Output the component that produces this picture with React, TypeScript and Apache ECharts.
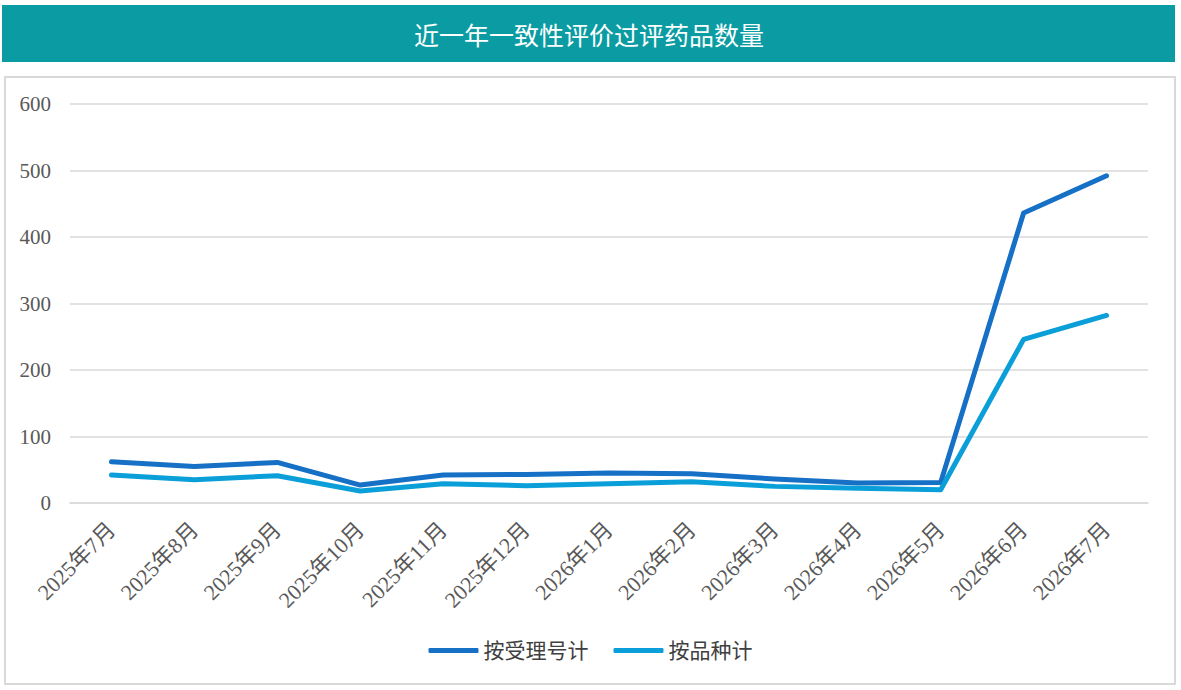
import React, { useEffect, useRef } from "react";
import * as echarts from "echarts";

const titleText = "近一年一致性评价过评药品数量";
const categories = [
  "2025年7月", "2025年8月", "2025年9月", "2025年10月", "2025年11月", "2025年12月",
  "2026年1月", "2026年2月", "2026年3月", "2026年4月", "2026年5月", "2026年6月", "2026年7月",
];
const seriesNames = ["按受理号计", "按品种计"];
const byAcceptance = [62, 55, 61, 27, 42, 43, 45, 44, 36, 30, 31, 436, 492];
const byVariety = [42, 35, 41, 18, 29, 26, 29, 32, 25, 22, 20, 246, 282];
const yMin = 0;
const yMax = 600;
const yInterval = 100;

const FONT = "'Liberation Serif', 'Noto Sans CJK SC', serif";

export default function App() {
  const ref = useRef<HTMLDivElement>(null);
  useEffect(() => {
    if (!ref.current) return;
    const chart = echarts.init(ref.current, null, { renderer: "svg" });
    chart.setOption({
      animation: false,
      backgroundColor: "#ffffff",
      graphic: [
        {
          type: "rect",
          shape: { x: 2, y: 5, width: 1173, height: 57 },
          style: { fill: "#0b9ca3" },
          z: 0,
        },
        {
          type: "text",
          x: 589,
          y: 34,
          style: {
            text: titleText,
            fill: "#ffffff",
            font: "25px 'Noto Sans CJK SC', sans-serif",
            textAlign: "center",
            textVerticalAlign: "middle",
          },
          z: 1,
        },
        {
          type: "rect",
          shape: { x: 5, y: 77, width: 1170, height: 607 },
          style: { fill: "none", stroke: "#d9d9d9", lineWidth: 2 },
          z: 0,
        },
      ],
      grid: { left: 70, right: 33, top: 104, bottom: 187, containLabel: false },
      legend: {
        left: "center",
        top: 635,
        icon: "roundRect",
        itemWidth: 50,
        itemHeight: 5,
        itemGap: 25,
        data: seriesNames,
        textStyle: { fontSize: 21, color: "#404040", fontFamily: FONT },
      },
      xAxis: {
        type: "category",
        data: categories,
        boundaryGap: true,
        axisLine: { show: true, lineStyle: { color: "#d9d9d9", width: 1.5 } },
        axisTick: { show: false },
        axisLabel: {
          interval: 0,
          rotate: 45,
          margin: 23,
          fontSize: 22,
          color: "#595959",
          fontFamily: FONT,
        },
      },
      yAxis: {
        type: "value",
        min: yMin,
        max: yMax,
        interval: yInterval,
        axisLine: { show: false },
        axisTick: { show: false },
        splitLine: { lineStyle: { color: "#d9d9d9", width: 1.5 } },
        axisLabel: { fontSize: 21, color: "#595959", fontFamily: FONT, margin: 19 },
      },
      series: [
        {
          name: seriesNames[0],
          type: "line",
          data: byAcceptance,
          symbol: "none",
          color: "#1670c5",
          lineStyle: { width: 5, color: "#1670c5", cap: "round", join: "round" },
        },
        {
          name: seriesNames[1],
          type: "line",
          data: byVariety,
          symbol: "none",
          color: "#0a9fd8",
          lineStyle: { width: 5, color: "#0a9fd8", cap: "round", join: "round" },
        },
      ],
    });
    return () => chart.dispose();
  }, []);
  return (
    <div
      ref={ref}
      style={{ position: "fixed", left: 0, top: 0, width: 1181, height: 690 }}
    />
  );
}
